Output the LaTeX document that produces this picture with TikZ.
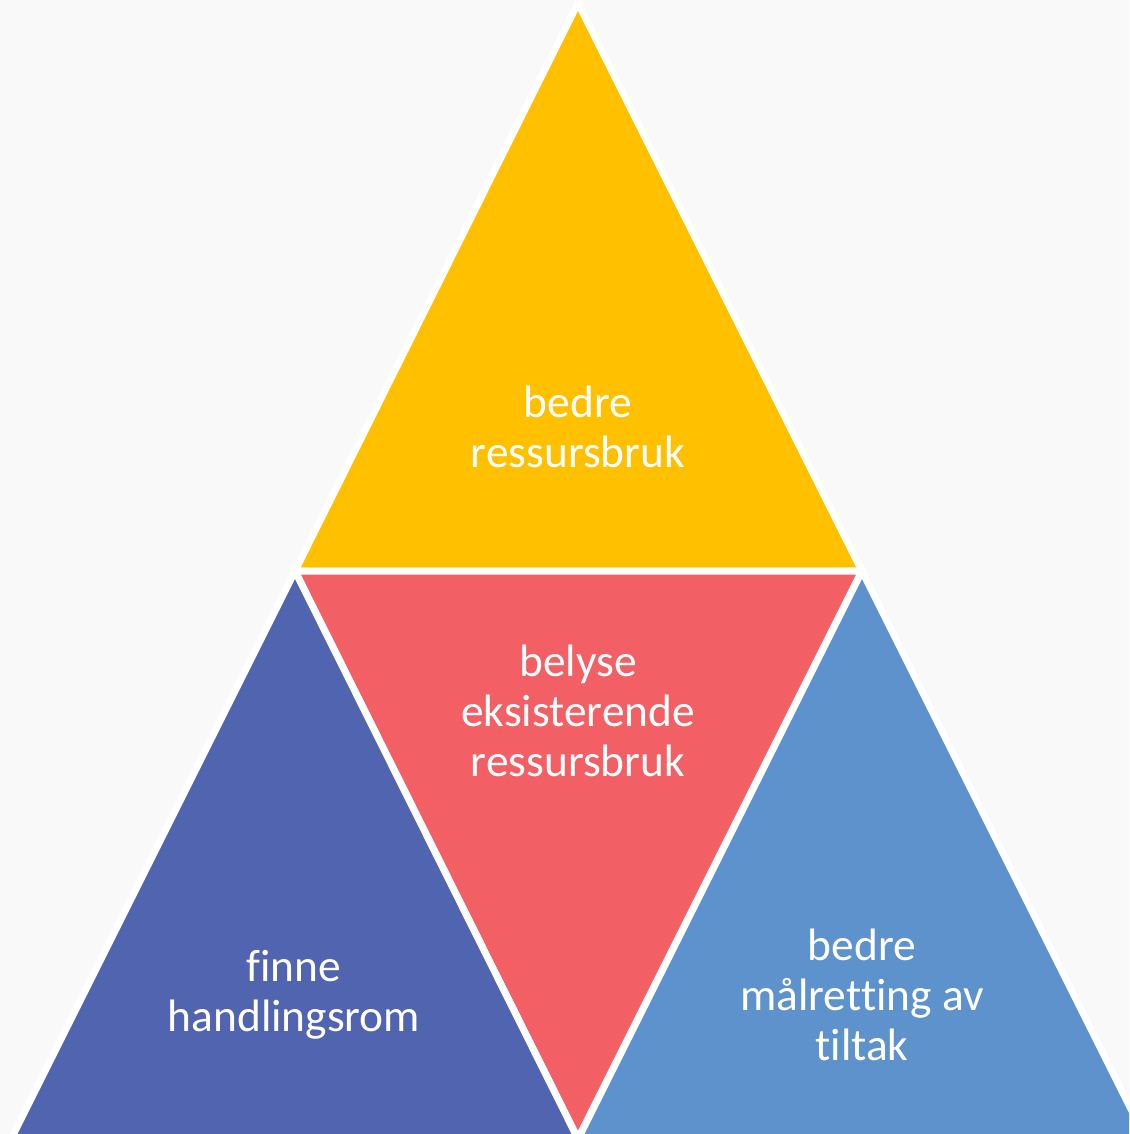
\documentclass[tikz,border=0pt]{standalone}
\usepackage{fontspec}
\setmainfont{Carlito}
\usepackage{xcolor}
\usetikzlibrary{positioning}
\definecolor{bgGray}{RGB}{249,249,249}
\definecolor{triYellow}{RGB}{255,192,0}
\definecolor{triRed}{RGB}{242,95,100}
\definecolor{triBlue}{RGB}{81,100,176}
\definecolor{triSky}{RGB}{94,146,205}
\newcommand{\nolig}{\kern0pt}
\tikzset{
  tri/.style={draw=white, line width=3.5pt, line join=miter},
  lbl/.style={text=white, align=center, font=\fontsize{22.7}{25}\selectfont}
}

\begin{document}
\begin{tikzpicture}[x=0.5pt, y=-0.5pt]
	% background and frame
	\fill[bgGray] (0,0) rectangle (1129,1134);
	\useasboundingbox (0,0) rectangle (1129,1134);
	\clip (0,0) rectangle (1129,1134);
	% corner points
	\coordinate (top) at (578,3);
	\coordinate (midL) at (295,571);
	\coordinate (midR) at (862,571);
	\coordinate (botM) at (578,1139);
	\coordinate (botL) at (11,1139);
	\coordinate (botR) at (1146,1139);
	% draw triangles
	\filldraw[tri, fill=triYellow] (top) -- (midL) -- (midR) -- cycle;
	\filldraw[tri, fill=triRed] (midL) -- (midR) -- (botM) -- cycle;
	\filldraw[tri, fill=triBlue] (midL) -- (botL) -- (botM) -- cycle;
	\filldraw[tri, fill=triSky] (midR) -- (botM) -- (botR) -- cycle;
	% add labels
	\node[lbl] (ressurs) at (578,427) {bedre\\ressursbruk};
	\node[lbl] (belyse) at (578,711) {belyse\\eksisterende\\ressursbruk};
	\node[lbl] (handling) at (294,995) {f\nolig inne\\handlingsrom};
	\node[lbl] (maal) at (862,995) {bedre\\målret\nolig t\nolig ing av\\t\nolig iltak};
\end{tikzpicture}
\end{document}
